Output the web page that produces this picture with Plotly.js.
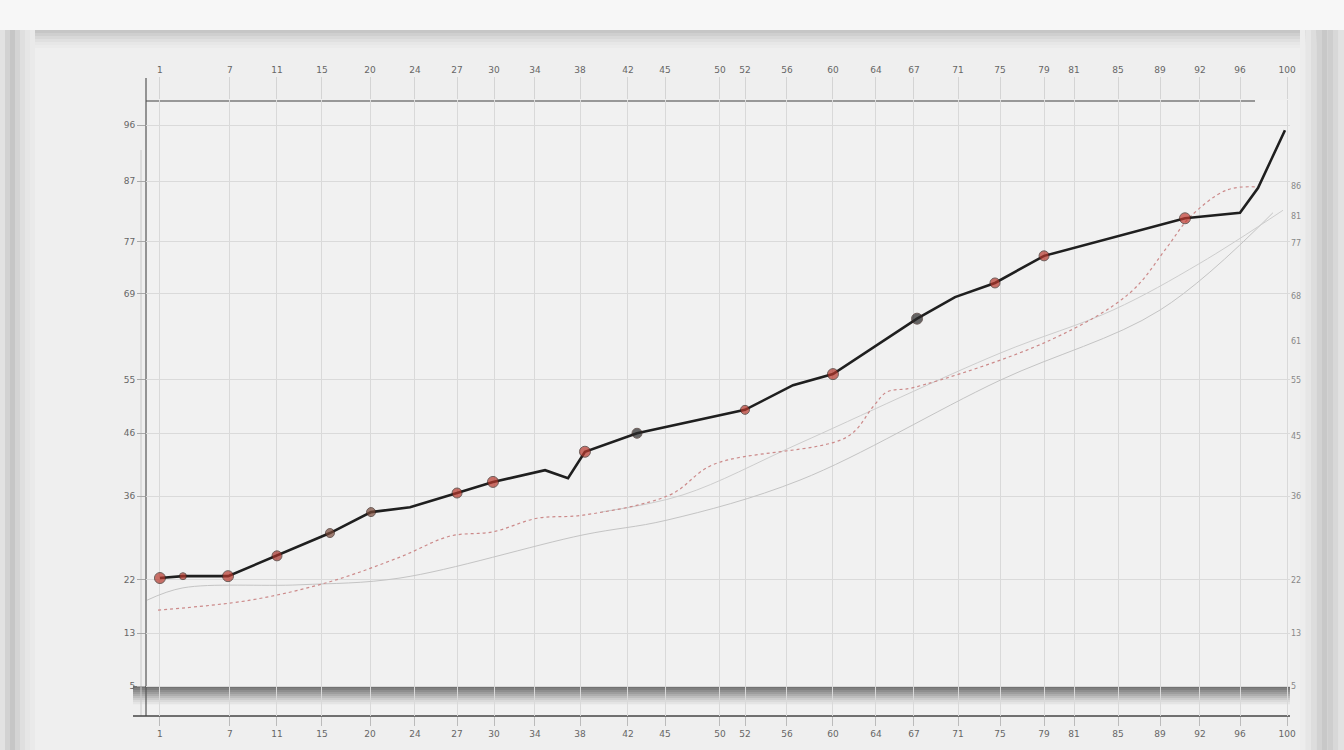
<!DOCTYPE html>
<html>
<head>
<meta charset="utf-8">
<script src="https://cdn.plot.ly/plotly-3.0.1.min.js"></script>
<style>html,body{margin:0;padding:0;background:#ebebeb;}#chart{width:1344px;height:750px;}</style>
</head>
<body>
<div id="chart"></div>
<script>
// ---- data ----
const mainX = [1.22, 3.23, 7.17, 11.45, 16.08, 19.67, 23.08, 27.19, 30.33, 34.88, 36.89, 38.37, 42.92, 52.36, 56.56, 60.05, 67.40, 70.72, 74.21, 78.50, 84.97, 90.82, 95.63, 97.20, 99.56];
const mainY = [22.4, 22.7, 22.7, 26.0, 29.7, 33.1, 33.9, 36.2, 38.0, 39.9, 38.6, 42.9, 45.9, 49.7, 53.7, 55.5, 64.5, 68.0, 70.3, 74.7, 77.9, 80.8, 81.7, 85.7, 95.1];
const mainMarkerSize = [11, 7, 11, 10, 9, 9, 0, 10, 11, 0, 0, 11, 10, 9, 0, 11, 11, 0, 10, 10, 0, 11, 0, 0, 0];
const mainMarkerColor = ['#b8382c','#b8382c','#b8382c','#a8322a','#7a4a3a','#7a4a3a','#222','#b8382c','#b8382c','#222','#222','#b8382c','#2a2a2a','#b8382c','#222','#b8382c','#2a2a2a','#222','#b8382c','#b8382c','#222','#c23a30','#222','#222','#222'];

const redX = [1.05, 9.09, 16.08, 22.20, 26.57, 30.33, 34.18, 38.20, 45.80, 49.56, 61.28, 63.55, 64.77, 67.05, 79.02, 86.01, 89.25, 91.26, 94.49, 97.12];
const redY = [17.2, 18.8, 21.8, 25.8, 29.2, 29.9, 32.1, 32.6, 35.9, 40.8, 45.3, 50.2, 52.6, 53.3, 61.0, 68.7, 76.1, 81.0, 85.4, 85.9];

const grayAX = [0.09, 3.23, 13.46, 22.20, 38.20, 45.54, 57.17, 74.65, 88.64, 98.51];
const grayAY = [18.8, 20.8, 21.3, 22.4, 29.4, 31.8, 38.3, 54.5, 65.9, 81.7];

const grayBX = [39.69, 46.94, 57.17, 74.65, 84.53, 92.13, 99.39];
const grayBY = [33.1, 35.9, 44.3, 58.9, 65.9, 73.5, 82.1];

const xTicks = [1.22, 7.34, 11.45, 15.38, 19.58, 23.51, 27.19, 30.42, 34.0, 37.94, 42.13, 45.37, 50.17, 52.36, 56.03, 60.05, 63.81, 67.13, 70.98, 74.65, 78.5, 81.12, 84.97, 88.64, 92.13, 95.63, 99.74];
const xTickText = xTicks.map(v => String(Math.round(v)));
const yTicksLeft = [95.94, 86.85, 76.95, 68.51, 54.55, 45.94, 35.71, 22.08, 13.47, 4.87];
const yTickTextLeft = yTicksLeft.map(v => String(Math.round(v)));
const yTicksRight = [86.04, 81.17, 76.79, 68.18, 60.88, 54.55, 45.45, 35.71, 22.08, 13.47, 4.87];
const yTickTextRight = yTicksRight.map(v => String(Math.round(v)));

// ---- helpers for frame shapes (pixel -> paper) ----
const L = 146, T = 100, W = 1144, H = 616;
const px = p => (p - L) / W;
const py = p => (T + H - p) / H;
function rect(x0, y0, x1, y1, color, layer) {
  return {type: 'rect', xref: 'paper', yref: 'paper', x0: px(x0), x1: px(x1), y0: py(y1), y1: py(y0),
          fillcolor: color, line: {width: 0}, layer: layer || 'below'};
}
function hline(x0, x1, y, color, w, layer) {
  return {type: 'line', xref: 'paper', yref: 'paper', x0: px(x0), x1: px(x1), y0: py(y), y1: py(y),
          line: {color: color, width: w}, layer: layer || 'below'};
}
function vline(x, y0, y1, color, w) {
  return {type: 'line', xref: 'paper', yref: 'paper', x0: px(x), x1: px(x), y0: py(y0), y1: py(y1),
          line: {color: color, width: w}, layer: 'below'};
}

const shapes = [];
// outer background strip on top
shapes.push(rect(0, 0, 1344, 30, '#f7f7f7'));
// frame shadow on top edge
const topShade = ['#c6c6c6','#cfcfcf','#d8d8d8','#e0e0e0','#e7e7e7','#ebebeb'];
topShade.forEach((c, i) => shapes.push(rect(18, 30 + i * 3, 1320, 33 + i * 3, c)));
// left frame
const leftShade = ['#e2e2e2','#d2d2d2','#c6c6c6','#d4d4d4','#dfdfdf','#e6e6e6','#eaeaea'];
leftShade.forEach((c, i) => shapes.push(rect(i * 5, 30, i * 5 + 5, 750, c)));
// inner panel
shapes.push(rect(35, 48, 1305, 750, '#efefef'));
// right frame
const rightShade = ['#ededed','#e6e6e6','#dddddd','#d2d2d2','#c8c8c8','#cecece','#d8d8d8','#e2e2e2'];
rightShade.forEach((c, i) => shapes.push(rect(1300 + i * 5.5, 30, 1305.5 + i * 5.5, 750, c)));
// plot area slightly lighter
shapes.push(rect(146, 100, 1290, 716, '#f1f1f1'));
// bottom gradient band (drawn over the grid)
const band = ['#727272','#7f7f7f','#8e8e8e','#9d9d9d','#adadad','#bdbdbd','#cccccc','#dadada','#e4e4e4'];
band.forEach((c, i) => shapes.push(rect(133, 686 + i * 2, 1290, 688.2 + i * 2, c, 'between')));
// top horizontal rule and left axis extension
shapes.push(hline(146, 1255, 101, '#7a7a7a', 1.5));
shapes.push(vline(146, 716, 78, '#555', 1.2));
shapes.push(vline(141, 716, 150, '#c8c8c8', 1));
shapes.push(hline(133, 1290, 716, '#444', 1.5, 'between'));

const data = [
  {x: grayAX, y: grayAY, mode: 'lines', line: {color: '#c4c4c4', width: 1, shape: 'spline'}, hoverinfo: 'skip', showlegend: false},
  {x: grayBX, y: grayBY, mode: 'lines', line: {color: '#cdcdcd', width: 1, shape: 'spline'}, hoverinfo: 'skip', showlegend: false},
  {x: redX, y: redY, mode: 'lines', line: {color: '#cc8a8a', width: 1.2, dash: 'dot', shape: 'spline'}, hoverinfo: 'skip', showlegend: false},
  {x: mainX, y: mainY, mode: 'lines+markers',
   line: {color: '#1f1f1f', width: 2.6},
   marker: {size: mainMarkerSize, color: mainMarkerColor, line: {color: '#3a2520', width: 1}},
   showlegend: false},
  {x: mainX, y: mainY, xaxis: 'x2', yaxis: 'y2', mode: 'lines', opacity: 0, hoverinfo: 'skip', showlegend: false}
];

const tickFont = {family: 'DejaVu Sans', size: 9, color: '#666'};
const layout = {
  width: 1344, height: 750,
  margin: {l: L, r: 1344 - L - W, t: T, b: 750 - T - H, pad: 0},
  paper_bgcolor: '#ebebeb',
  plot_bgcolor: 'rgba(0,0,0,0)',
  showlegend: false,
  font: tickFont,
  xaxis: {
    range: [0, 100], tickmode: 'array', tickvals: xTicks, ticktext: xTickText,
    showgrid: true, gridcolor: '#d9d9d9', gridwidth: 1,
    zeroline: false, showline: false,
    ticks: 'outside', ticklen: 9, tickcolor: '#bbb', tickfont: tickFont
  },
  xaxis2: {
    overlaying: 'x', side: 'top', range: [0, 100], tickmode: 'array', tickvals: xTicks, ticktext: xTickText,
    showgrid: false, zeroline: false, showline: false,
    ticks: 'outside', ticklen: 22, tickcolor: '#d4d4d4', tickfont: tickFont
  },
  yaxis: {
    range: [0, 100], tickmode: 'array', tickvals: yTicksLeft, ticktext: yTickTextLeft,
    showgrid: true, gridcolor: '#dadada', gridwidth: 1,
    zeroline: false, showline: false,
    ticks: 'outside', ticklen: 8, tickcolor: '#aaa', tickfont: tickFont
  },
  yaxis2: {
    overlaying: 'y', side: 'right', range: [0, 100], tickmode: 'array', tickvals: yTicksRight, ticktext: yTickTextRight,
    showgrid: false, zeroline: false, showline: false,
    ticks: '', tickfont: {family: 'DejaVu Sans', size: 8, color: '#888'}
  },
  shapes: shapes
};

Plotly.newPlot('chart', data, layout, {displayModeBar: false, staticPlot: true});
</script>
</body>
</html>
